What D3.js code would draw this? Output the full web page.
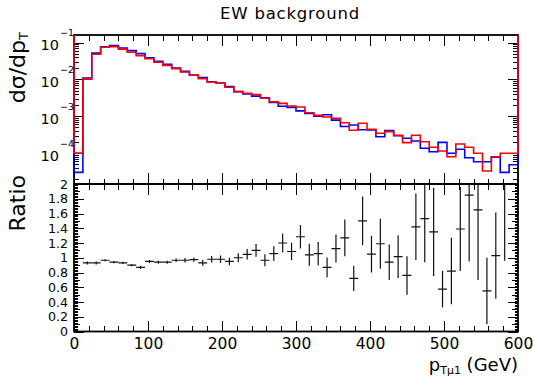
<!DOCTYPE html>
<html>
<head>
<meta charset="utf-8">
<script src="https://cdn.jsdelivr.net/npm/d3@7"></script>
<style>
  html, body { margin: 0; padding: 0; background: #fff; }
  svg { display: block; }
  text { font-family: "DejaVu Sans", sans-serif; fill: #000; }
</style>
</head>
<body>
<svg id="chart" width="533" height="387"></svg>
<script>
// Bin edges of the p_T distribution (GeV), 12 GeV bins
const binEdges = [0,12,24,36,48,60,72,84,96,108,120,132,144,156,168,180,192,204,216,228,240,
  252,264,276,288,300,312,324,336,348,360,372,384,396,408,420,432,444,456,468,480,
  492,504,516,528,540,552,564,576,588,600];

// dσ/dp_T per bin, first sample (red)
const redValues = [1.0e-4,1.02e-2,4.83e-2,7.5e-2,7.8e-2,6.7e-2,5.5e-2,4.4e-2,3.67e-2,2.93e-2,
  2.42e-2,1.97e-2,1.6e-2,1.3e-2,1.05e-2,8.55e-3,7.9e-3,6.14e-3,4.67e-3,4.21e-3,
  3.87e-3,3.08e-3,2.49e-3,2.25e-3,1.9e-3,1.79e-3,1.25e-3,1.06e-3,9.57e-4,8.83e-4,
  6.7e-4,4.17e-4,6.46e-4,4.43e-4,3.45e-4,3.82e-4,3.04e-4,1.92e-4,3.04e-4,2.04e-4,
  1.44e-4,1.14e-4,7.98e-5,1.77e-4,1.44e-4,9.86e-5,3.27e-5,7.98e-5,9.86e-5,9.86e-5];

// dσ/dp_T per bin, second sample (blue)
const blueValues = [3.0e-5,1.10e-2,5.2e-2,7.76e-2,8.3e-2,7.2e-2,6.1e-2,5.05e-2,3.86e-2,3.12e-2,
  2.57e-2,2.04e-2,1.66e-2,1.33e-2,1.13e-2,8.72e-3,8.06e-3,6.46e-3,4.67e-3,4.02e-3,
  3.52e-3,3.19e-3,2.36e-3,1.875e-3,1.75e-3,1.40e-3,1.20e-3,1.0e-3,1.10e-3,7.88e-4,
  5.28e-4,5.79e-4,4.31e-4,4.22e-4,2.79e-4,4.07e-4,2.97e-4,2.52e-4,2.13e-4,1.35e-4,
  1.09e-4,1.96e-4,9.86e-5,1.27e-4,7.5e-5,5.84e-5,5.84e-5,7.75e-5,3.0e-5,4.84e-5];

// Ratio per bin and its uncertainty (null = no entry)
const ratioValues = [3.3,0.93,0.93,0.966,0.94,0.93,0.90,0.87,0.95,0.94,
  0.94,0.966,0.966,0.975,0.93,0.98,0.98,0.95,1.0,1.047,
  1.10,0.966,1.057,1.20,1.085,1.285,1.04,1.055,0.87,1.125,
  1.27,0.72,1.50,1.05,1.19,0.94,1.016,0.76,1.42,1.53,
  1.35,0.574,0.82,1.39,1.85,1.65,0.55,1.03,3.28,null];
const ratioErrors = [0.5,0.02,0.02,0.015,0.015,0.015,0.015,0.02,0.02,0.02,
  0.02,0.025,0.03,0.03,0.04,0.045,0.05,0.05,0.06,0.07,
  0.085,0.08,0.1,0.13,0.12,0.16,0.15,0.16,0.135,0.19,
  0.25,0.17,0.33,0.25,0.34,0.24,0.29,0.26,0.45,0.59,
  0.6,0.25,0.45,0.57,0.9,0.95,0.45,0.585,2.32,null];

// Axis tick values and labels
const xMajorTicks = [0,100,200,300,400,500,600];
const xTickLabels = ["0","100","200","300","400","500","600"];
const xMinorStep = 20;
const topDecades = [1e-1,1e-2,1e-3,1e-4];
const topDecadeExponents = ["\u22121","\u22122","\u22123","\u22124"];
const ratioMajorTicks = [0,0.2,0.4,0.6,0.8,1,1.2,1.4,1.6,1.8,2];
const ratioTickLabels = ["0","0.2","0.4","0.6","0.8","1","1.2","1.4","1.6","1.8","2"];

// Frame geometry
const L = 74, R = 518;
const topY0 = 35, splitY = 184, botY1 = 331.5;

const svg = d3.select("#chart");
svg.append("rect").attr("width", 533).attr("height", 387).attr("fill", "#fff");

const x = d3.scaleLinear().domain([0, 600]).range([L, R]);
const yTop = d3.scaleLog().domain([1.445e-5, 0.1618]).range([splitY, topY0]);
const yRat = d3.scaleLinear().domain([0, 2]).range([botY1, splitY]);

// tick helpers built on d3 axes (ticks pointing into the frame)
function tickRow(g, axisFn, scale, values, len) {
  g.call(axisFn(scale).tickValues(values).tickSize(-len).tickSizeOuter(0).tickFormat(""));
  g.select(".domain").remove();
  g.selectAll("line").attr("stroke", "#000").attr("stroke-width", 1).attr("shape-rendering", "crispEdges");
}

const xMinor = d3.range(0, 601, xMinorStep).filter(v => xMajorTicks.indexOf(v) < 0);
const logMinor = [];
for (let e = -5; e <= -1; e++) for (let m = 2; m <= 9; m++) {
  const v = m * Math.pow(10, e);
  if (v > yTop.domain()[0] && v < yTop.domain()[1]) logMinor.push(v);
}
const ratMid = d3.range(1, 20, 2).map(k => k / 10);
const ratSmall = d3.range(0, 101).map(k => k / 50).filter(v => Math.abs(v * 10 - Math.round(v * 10)) > 1e-6);

function xTicks(yTopEdge, yBotEdge) {
  tickRow(svg.append("g").attr("transform", `translate(0,${yTopEdge})`), d3.axisTop, x, xMajorTicks, 11);
  tickRow(svg.append("g").attr("transform", `translate(0,${yTopEdge})`), d3.axisTop, x, xMinor, 5.5);
  tickRow(svg.append("g").attr("transform", `translate(0,${yBotEdge})`), d3.axisBottom, x, xMajorTicks, 11);
  tickRow(svg.append("g").attr("transform", `translate(0,${yBotEdge})`), d3.axisBottom, x, xMinor, 5.5);
}
function yTicks(scale, values, len) {
  tickRow(svg.append("g").attr("transform", `translate(${L},0)`), d3.axisLeft, scale, values, len);
  tickRow(svg.append("g").attr("transform", `translate(${R},0)`), d3.axisRight, scale, values, len);
}

// ---- upper panel: spectra on log scale ----
xTicks(topY0, splitY);
yTicks(yTop, topDecades, 10);
yTicks(yTop, logMinor, 5);

// ---- lower panel: ratio ----
xTicks(splitY, botY1);
yTicks(yRat, ratioMajorTicks, 10);
yTicks(yRat, ratMid, 6);
yTicks(yRat, ratSmall, 3.5);

// frames
[[topY0, splitY], [splitY, botY1]].forEach(([a, b]) => {
  svg.append("rect").attr("x", L).attr("y", a).attr("width", R - L).attr("height", b - a)
    .attr("fill", "none").attr("stroke", "#000").attr("stroke-width", 1.8);
});

// clip regions
const defs = svg.append("defs");
defs.append("clipPath").attr("id", "clipTop").append("rect")
  .attr("x", L - 1.5).attr("y", topY0).attr("width", R - L + 3).attr("height", splitY - topY0);
defs.append("clipPath").attr("id", "clipBot").append("rect")
  .attr("x", L).attr("y", splitY).attr("width", R - L).attr("height", botY1 - splitY);

// step outline starting from the frame top at the first edge
function stepPath(vals) {
  const top = yTop.range()[1];
  let d = `M${x(binEdges[0])},${top}`;
  vals.forEach((v, i) => { d += `V${yTop(v)}H${x(binEdges[i + 1])}`; });
  d += `V${top}`;
  return d;
}
const hg = svg.append("g").attr("clip-path", "url(#clipTop)");
[[blueValues, "#0000ff"], [redValues, "#ff0000"]].forEach(([vals, col]) => {
  hg.append("path").attr("d", stepPath(vals)).attr("fill", "none")
    .attr("stroke", col).attr("stroke-width", 1.6);
});

// ratio points with error bars
const rg = svg.append("g").attr("clip-path", "url(#clipBot)");
const pts = ratioValues.map((r, i) => ({ r, e: ratioErrors[i], lo: binEdges[i], hi: binEdges[i + 1] }))
  .filter(p => p.r !== null);
pts.forEach(p => {
  const cx = x((p.lo + p.hi) / 2);
  rg.append("line").attr("x1", x(p.lo)).attr("x2", x(p.hi)).attr("y1", yRat(p.r)).attr("y2", yRat(p.r))
    .attr("stroke", "#111").attr("stroke-width", 1.2);
  rg.append("line").attr("x1", cx).attr("x2", cx).attr("y1", yRat(p.r - p.e)).attr("y2", yRat(p.r + p.e))
    .attr("stroke", "#111").attr("stroke-width", 1.2);
});

// ---- labels ----
// x tick labels
const xl = svg.append("g").attr("transform", `translate(0,${botY1})`)
  .call(d3.axisBottom(x).tickValues(xMajorTicks).tickSize(0).tickPadding(6)
    .tickFormat((d, i) => xTickLabels[i]));
xl.select(".domain").remove();
xl.selectAll("text").attr("font-size", 15.5).attr("font-family", "DejaVu Sans").attr("fill", "#000");

// ratio y labels
const yl = svg.append("g").attr("transform", `translate(${L},0)`)
  .call(d3.axisLeft(yRat).tickValues(ratioMajorTicks).tickSize(0).tickPadding(6)
    .tickFormat((d, i) => ratioTickLabels[i]));
yl.select(".domain").remove();
yl.selectAll("text").attr("font-size", 12.6).attr("font-family", "DejaVu Sans").attr("fill", "#000");

// decade labels 10^n
topDecades.forEach((v, i) => {
  const ty = yTop(v);
  svg.append("text").attr("x", 59).attr("y", ty + 7.6).attr("text-anchor", "end")
    .attr("font-size", 14.5).text("10");
  svg.append("text").attr("x", 60).attr("y", ty - 6.5).attr("text-anchor", "start")
    .attr("font-size", 9.5).text(topDecadeExponents[i]);
});

// title
svg.append("text").attr("x", 290).attr("y", 19.3).attr("text-anchor", "middle")
  .attr("font-size", 16.5).attr("letter-spacing", 0.8).text("EW background");

// y titles
const yt1 = svg.append("text").attr("transform", `translate(25,${topY0 - 3}) rotate(-90)`)
  .attr("text-anchor", "end").attr("font-size", 22);
yt1.append("tspan").text("dσ/dp");
yt1.append("tspan").attr("font-size", 13).attr("dy", 3).text("T");

svg.append("text").attr("transform", `translate(25,${splitY - 9}) rotate(-90)`)
  .attr("text-anchor", "end").attr("font-size", 22).text("Ratio");

// x title
const xt = svg.append("text").attr("x", R).attr("y", 371).attr("text-anchor", "end").attr("font-size", 18);
xt.append("tspan").text("p");
xt.append("tspan").attr("font-size", 11).attr("dy", 3).text("Tμ1");
xt.append("tspan").attr("dy", -3).text(" (GeV)");
</script>
</body>
</html>
